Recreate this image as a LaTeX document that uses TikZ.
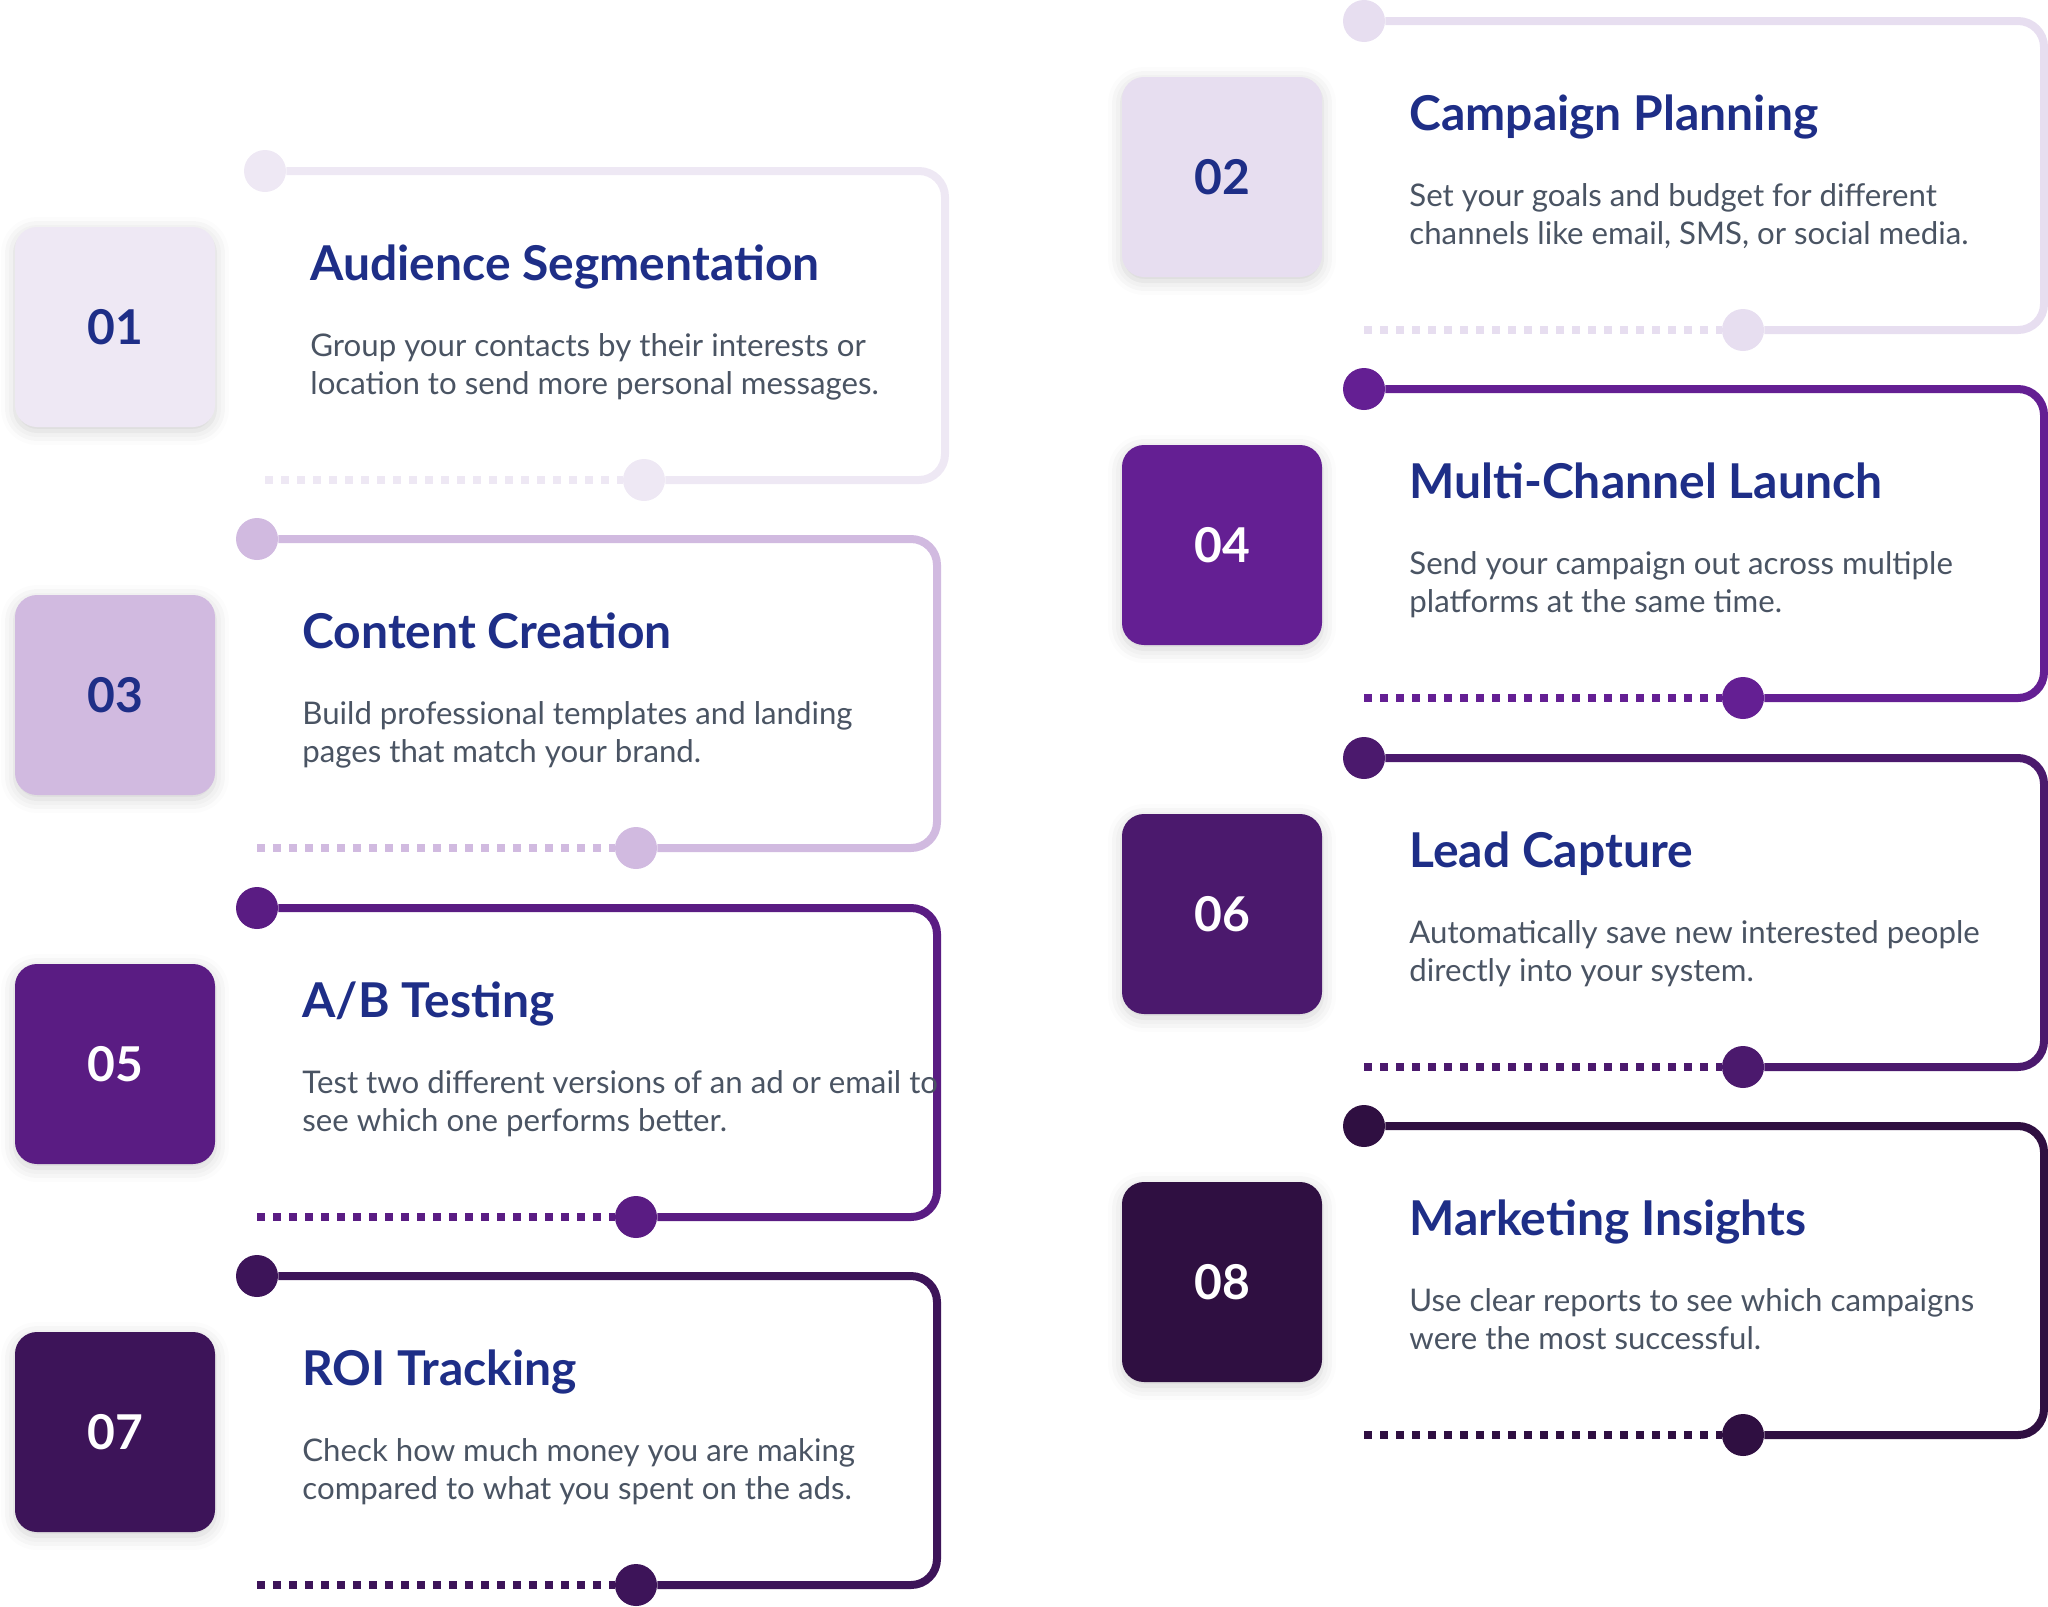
\documentclass[tikz,border=0pt]{standalone}
\usepackage{fontspec}
\setmainfont{Lato}
\usetikzlibrary{shadows.blur}

\definecolor{step01}{HTML}{EEE8F4}
\definecolor{step02}{HTML}{E7DEF0}
\definecolor{step03}{HTML}{D1BAE0}
\definecolor{step04}{HTML}{641F93}
\definecolor{step05}{HTML}{5A1C83}
\definecolor{step06}{HTML}{4B196D}
\definecolor{step07}{HTML}{3D1459}
\definecolor{step08}{HTML}{2F0F41}
\definecolor{stepnavy}{HTML}{1E2E87}
\definecolor{stepgray}{HTML}{4A5463}

\begin{document}
\begin{tikzpicture}[x=0.5pt, y=-0.5pt,
    numbox/.style={rectangle, rounded corners=11pt, minimum size=100pt, inner sep=0pt,
      blur shadow={shadow xshift=0pt, shadow yshift=-2pt, shadow blur radius=7pt, shadow opacity=18},
      font=\fontsize{24}{28}\selectfont\bfseries},
    raildot/.style={circle, minimum size=21pt, inner sep=0pt},
    rail/.style={line width=4pt, rounded corners=13pt},
    dotrail/.style={line width=4pt, dash pattern=on 4pt off 4pt},
    steptitle/.style={anchor=base west, inner sep=0pt, text=stepnavy,
      font=\fontsize{24}{28}\selectfont\bfseries},
    stepbody/.style={anchor=base west, inner sep=0pt, text=stepgray, align=left,
      font=\fontsize{15.6}{19}\selectfont}]
  \useasboundingbox (0,0) rectangle (2048,1606);
  % Steps: number / box x / dot x / top y / number colour / title / text
  \foreach \n/\bx/\dx/\ty/\fg/\ttl/\txt in {
    01/115/265/171/stepnavy/{Audience Segmentation}/{Group your contacts by their interests or\\location to send more personal messages.},
    02/1222/1364/21/stepnavy/{Campaign Planning}/{Set your goals and budget for different\\channels like email, SMS, or social media.},
    03/115/257/539/stepnavy/{Content Creation}/{Build professional templates and landing\\pages that match your brand.},
    04/1222/1364/389/white/{Multi-Channel Launch}/{Send your campaign out across multiple\\platforms at the same time.},
    05/115/257/908/white/{A/B Testing}/{Test two different versions of an ad or email to\\see which one performs better.},
    06/1222/1364/758/white/{Lead Capture}/{Automatically save new interested people\\directly into your system.},
    07/115/257/1276/white/{ROI Tracking}/{Check how much money you are making\\compared to what you spent on the ads.},
    08/1222/1364/1126/white/{Marketing Insights}/{Use clear reports to see which campaigns\\were the most successful.}}
  {
    % Number box
    \node[numbox, fill=step\n, text=\fg] (box\n) at (\bx,{\ty+156}) {\n};
    % Rail with its two dots
    \node[raildot, fill=step\n] (top\n) at (\dx,\ty) {};
    \node[raildot, fill=step\n] (bot\n) at ({\dx+379},{\ty+309}) {};
    \coordinate (end\n) at (\dx,{\ty+309});
    \draw[rail, step\n] (top\n) -- ({\dx+680},\ty) -- ({\dx+680},{\ty+309}) -- (bot\n);
    \draw[dotrail, step\n] (end\n) -- (bot\n);
    % Texts
    \node[steptitle] (title\n) at ({\dx+45},{\ty+109}) {\ttl};
    \node[stepbody] (body\n) at ({\dx+45},{\ty+223}) {\txt};
  }
\end{tikzpicture}
\end{document}
